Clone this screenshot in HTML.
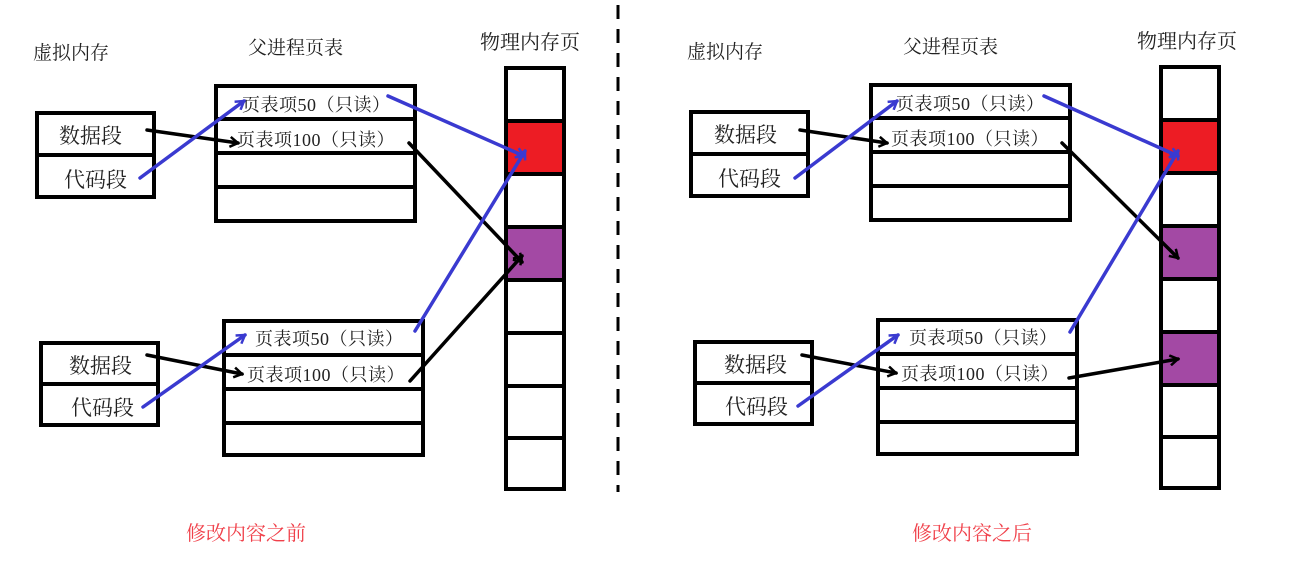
<!DOCTYPE html>
<html><head><meta charset="utf-8"><style>
html,body{margin:0;padding:0;background:#fff;}
svg{display:block;}
text{font-family:"Liberation Serif","Noto Serif CJK SC","Noto Sans CJK SC",serif;fill:#222;}
</style></head><body>
<svg width="1292" height="561" viewBox="0 0 1292 561" xmlns="http://www.w3.org/2000/svg">
<defs>
<marker id="ab" viewBox="0 0 12 12" refX="10" refY="6" markerWidth="12" markerHeight="12" markerUnits="userSpaceOnUse" orient="auto">
<polyline points="2,1 10,6 2,11" fill="none" stroke="#000" stroke-width="2.5"/></marker>
<marker id="au" viewBox="0 0 12 12" refX="10" refY="6" markerWidth="12" markerHeight="12" markerUnits="userSpaceOnUse" orient="auto">
<polyline points="2,1 10,6 2,11" fill="none" stroke="#3a3ad0" stroke-width="2.5"/></marker>
</defs>
<g fill="none" stroke="#000" stroke-width="4">
<rect x="37" y="113" width="117" height="84" fill="#fff"/><line x1="37" y1="155" x2="154" y2="155"/>
<rect x="216" y="86" width="199" height="135"/>
<line x1="216" y1="119" x2="415" y2="119"/><line x1="216" y1="153" x2="415" y2="153"/><line x1="216" y1="187" x2="415" y2="187"/>
<rect x="41" y="343" width="117" height="82"/><line x1="41" y1="384" x2="158" y2="384"/>
<rect x="224" y="321" width="199" height="134"/>
<line x1="224" y1="355" x2="423" y2="355"/><line x1="224" y1="389" x2="423" y2="389"/><line x1="224" y1="423" x2="423" y2="423"/>
<rect x="506" y="121" width="58" height="52" fill="#ed1c24" stroke="none"/>
<rect x="506" y="227" width="58" height="52" fill="#a349a4" stroke="none"/>
<rect x="506" y="68" width="58" height="421"/>
<line x1="506" y1="121" x2="564" y2="121"/><line x1="506" y1="174" x2="564" y2="174"/><line x1="506" y1="227" x2="564" y2="227"/><line x1="506" y1="280" x2="564" y2="280"/><line x1="506" y1="333" x2="564" y2="333"/><line x1="506" y1="386" x2="564" y2="386"/><line x1="506" y1="438" x2="564" y2="438"/>
<rect x="691" y="112" width="117" height="84"/><line x1="691" y1="154" x2="808" y2="154"/>
<rect x="871" y="85" width="199" height="135"/>
<line x1="871" y1="118" x2="1070" y2="118"/><line x1="871" y1="152" x2="1070" y2="152"/><line x1="871" y1="186" x2="1070" y2="186"/>
<rect x="695" y="342" width="117" height="82"/><line x1="695" y1="383" x2="812" y2="383"/>
<rect x="878" y="320" width="199" height="134"/>
<line x1="878" y1="354" x2="1077" y2="354"/><line x1="878" y1="388" x2="1077" y2="388"/><line x1="878" y1="422" x2="1077" y2="422"/>
<rect x="1161" y="120" width="58" height="52" fill="#ed1c24" stroke="none"/>
<rect x="1161" y="226" width="58" height="52" fill="#a349a4" stroke="none"/>
<rect x="1161" y="332" width="58" height="52" fill="#a349a4" stroke="none"/>
<rect x="1161" y="67" width="58" height="421"/>
<line x1="1161" y1="120" x2="1219" y2="120"/><line x1="1161" y1="173" x2="1219" y2="173"/><line x1="1161" y1="226" x2="1219" y2="226"/><line x1="1161" y1="279" x2="1219" y2="279"/><line x1="1161" y1="332" x2="1219" y2="332"/><line x1="1161" y1="385" x2="1219" y2="385"/><line x1="1161" y1="437" x2="1219" y2="437"/>
</g>
<line x1="618" y1="5" x2="618" y2="492" stroke="#000" stroke-width="3" stroke-dasharray="14,10"/>
<g font-size="19">
<text x="33" y="59">虚拟内存</text><text x="248" y="54">父进程页表</text><text x="480" y="49" font-size="20">物理内存页</text>
<text x="687" y="58">虚拟内存</text><text x="903" y="53">父进程页表</text><text x="1137" y="48" font-size="20">物理内存页</text>
</g>
<g font-size="21">
<text x="59" y="143">数据段</text><text x="64" y="187">代码段</text>
<text x="69" y="373">数据段</text><text x="71" y="415">代码段</text>
<text x="714" y="142">数据段</text><text x="718" y="186">代码段</text>
<text x="724" y="372">数据段</text><text x="725" y="414">代码段</text>
</g>
<g font-size="18" letter-spacing="0.5">
<text x="242" y="111">页表项50（只读）</text><text x="237" y="146">页表项100（只读）</text>
<text x="255" y="345">页表项50（只读）</text><text x="247" y="381">页表项100（只读）</text>
<text x="896" y="110">页表项50（只读）</text><text x="891" y="145">页表项100（只读）</text>
<text x="909" y="344">页表项50（只读）</text><text x="901" y="380">页表项100（只读）</text>
</g>
<g font-size="20">
<text x="186" y="540" style="fill:#f0404a">修改内容之前</text>
<text x="912" y="540" style="fill:#f0404a">修改内容之后</text>
</g>
<g stroke-width="3.5" fill="none" stroke-linecap="round">
<line x1="147" y1="130" x2="238" y2="143" stroke="#000" marker-end="url(#ab)"/>
<line x1="140" y1="178" x2="244" y2="101" stroke="#3a3ad0" marker-end="url(#au)"/>
<line x1="388" y1="96" x2="524" y2="156" stroke="#3a3ad0" marker-end="url(#au)"/>
<line x1="409" y1="143" x2="522" y2="262" stroke="#000" marker-end="url(#ab)"/>
<line x1="415" y1="331" x2="525" y2="151" stroke="#3a3ad0" marker-end="url(#au)"/>
<line x1="410" y1="381" x2="522" y2="256" stroke="#000" marker-end="url(#ab)"/>
<line x1="147" y1="355" x2="242" y2="374" stroke="#000" marker-end="url(#ab)"/>
<line x1="143" y1="407" x2="245" y2="335" stroke="#3a3ad0" marker-end="url(#au)"/>
<line x1="800" y1="130" x2="887" y2="143" stroke="#000" marker-end="url(#ab)"/>
<line x1="795" y1="178" x2="897" y2="101" stroke="#3a3ad0" marker-end="url(#au)"/>
<line x1="1044" y1="96" x2="1178" y2="156" stroke="#3a3ad0" marker-end="url(#au)"/>
<line x1="1062" y1="143" x2="1178" y2="258" stroke="#000" marker-end="url(#ab)"/>
<line x1="1070" y1="332" x2="1178" y2="151" stroke="#3a3ad0" marker-end="url(#au)"/>
<line x1="1069" y1="378" x2="1178" y2="359" stroke="#000" marker-end="url(#ab)"/>
<line x1="802" y1="355" x2="896" y2="373" stroke="#000" marker-end="url(#ab)"/>
<line x1="798" y1="406" x2="898" y2="335" stroke="#3a3ad0" marker-end="url(#au)"/>
</g>
</svg>
</body></html>
